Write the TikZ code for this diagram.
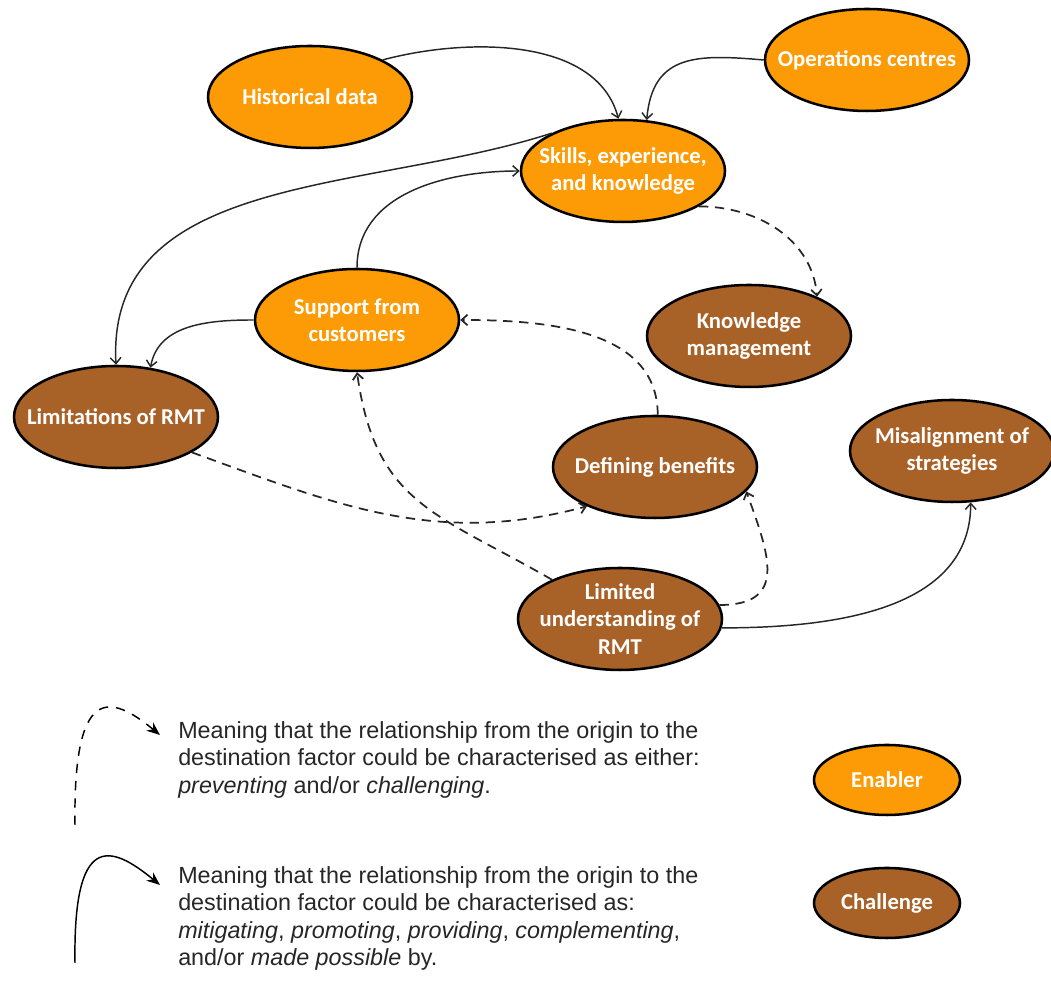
\documentclass[tikz,border=0pt]{standalone}
\usepackage{fontspec}
\setmainfont{Liberation Sans}
\newfontfamily\calibri{Carlito}
\usepackage{tikz}
\usetikzlibrary{
  shapes.geometric,      % Ellipse nodes
  arrows.meta            % Barb and stealth tips
}
\definecolor{enablerorange}{RGB}{252,155,5}
\definecolor{challengebrown}{RGB}{168,98,40}

\begin{document}
\begin{tikzpicture}[x=0.75pt, y=0.75pt,
    factor/.style={ellipse, draw=black, line width=1.9pt, minimum width=153pt,
      minimum height=76.5pt, inner xsep=-14pt, inner ysep=-3pt, text=white,
      align=center, font=\calibri\bfseries\fontsize{17pt}{20.5pt}\selectfont},
    enabler/.style={factor, fill=enablerorange},
    challenge/.style={factor, fill=challengebrown},
    keybox/.style={minimum width=109.5pt, minimum height=52.5pt},
    link/.style={-{Straight Barb[length=4.5pt,width=8pt]}, line width=1.1pt, draw=black!85},
    hinder/.style={link, line width=1.3pt, dash pattern=on 7pt off 5pt},
    keyarrow/.style={-{Stealth[length=10pt,width=8pt]}, line width=1.1pt},
    keytext/.style={anchor=north west, inner sep=0pt, align=left, text=black!85,
      font=\fontsize{17.5pt}{20.6pt}\selectfont}
  ]
        \useasboundingbox (0,0) rectangle (1051,984);

        % Enablers
        \node[enabler] (hist) at (310,887) {Historical data};
        \node[enabler] (ops) at (867,924) {Operations centres};
        \node[enabler] (skills) at (623,813) {Skills, experience,\\and knowledge};
        \node[enabler] (support) at (357,664) {Support from\\customers};

        % Challenges
        \node[challenge] (knowledge) at (749,648) {Knowledge\\management};
        \node[challenge] (limits) at (116,567) {Limitations of RMT};
        \node[challenge] (defining) at (655,517) {Defining benefits};
        \node[challenge] (misalign) at (952,533) {Misalignment of\\strategies};
        \node[challenge] (limited) at (620,365) {Limited\\understanding of\\RMT};

        % Solid links
        \draw[link] (hist.27) to[out=15, in=105, looseness=0.9] (skills.95);
        \draw[link] (ops.180) to[out=175, in=85, looseness=1.3] (skills.65);
        \draw[link] (skills.152) to[out=198, in=93] (limits.90);
        \draw[link] (support.90) to[out=90, in=180] (skills.180);
        \draw[link] (support.180) to[out=180, in=80] (limits.55);
        \draw[link] (limited.-5) to[out=0, in=-90] (misalign.-70);

        % Dashed links
        \draw[hinder] (skills.-25) to[out=0, in=95] (knowledge.30);
        \draw[hinder] (defining.87) to[out=90, in=0] (support.0);
        \draw[hinder] (limits.-25) to[out=-20, in=195] (defining.210);
        \draw[hinder] (limited.150) to[out=150, in=-82, looseness=1.2] (support.270);
        \draw[hinder] (limited.8) to[out=0, in=-70, looseness=1.5] (defining.-15);

        % Legend arrows
        \coordinate (dashS) at (75,159);
        \coordinate (dashE) at (160,249);
        \coordinate (solidS) at (75,21);
        \coordinate (solidE) at (160,99);
        \draw[keyarrow, dash pattern=on 7pt off 6pt] (dashS) .. controls (73,300) and (110,290) .. (dashE);
        \draw[keyarrow] (solidS) .. controls (73,152) and (110,140) .. (solidE);

        % Legend texts
        \node[keytext] (dashtext) at (178,263) {Meaning that the relationship from the origin to the\\destination factor could be characterised as either:\\\textit{preventing} and/or \textit{challenging}.};
        \node[keytext] (solidtext) at (178,118) {Meaning that the relationship from the origin to the\\destination factor could be characterised as:\\\textit{mitigating}, \textit{promoting}, \textit{providing}, \textit{complementing},\\and/or \textit{made possible} by.};

        % Legend ellipses
        \node[enabler, keybox] (keyenabler) at (887,204) {Enabler};
        \node[challenge, keybox] (keychallenge) at (887,81) {Challenge};
    \end{tikzpicture}
\end{document}
